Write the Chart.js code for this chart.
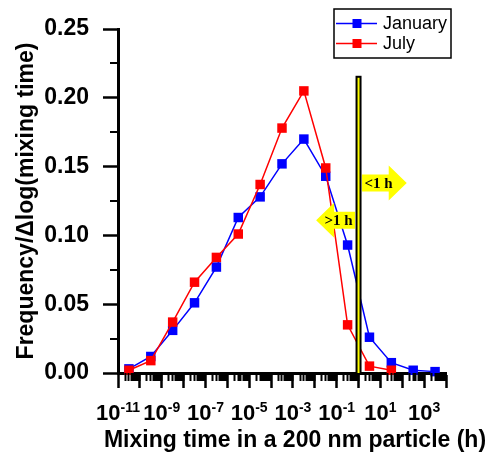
<!DOCTYPE html>
<html>
<head>
<meta charset="utf-8">
<script src="https://cdn.jsdelivr.net/npm/chart.js@4.4.1/dist/chart.umd.min.js"></script>
<style>
  html, body { margin: 0; padding: 0; background: #fff; }
</style>
</head>
<body>
<canvas id="mixChart" width="490" height="460"></canvas>
<script>
// bin centres as log10(mixing time / h)
const binExponents = [-10.5, -9.5, -8.5, -7.5, -6.5, -5.5, -4.5, -3.5, -2.5, -1.5, -0.5, 0.5, 1.5, 2.5, 3.5];
const january = [0.003, 0.012, 0.031, 0.051, 0.077, 0.113, 0.128, 0.152, 0.170, 0.143, 0.093, 0.026, 0.0075, 0.002, 0.001];
const july = [0.002, 0.009, 0.037, 0.066, 0.084, 0.101, 0.137, 0.178, 0.205, 0.149, 0.035, 0.005, 0.002];

const yTicks = [0, 0.05, 0.10, 0.15, 0.20, 0.25];
const yMinorTicks = [0.025, 0.075, 0.125, 0.175, 0.225];
const xDecades = [-11, -10, -9, -8, -7, -6, -5, -4, -3, -2, -1, 0, 1, 2, 3, 4];
const xLabelDecades = [-11, -9, -7, -5, -3, -1, 1, 3];
const xTitle = 'Mixing time in a 200 nm particle (h)';

// 1 h divider and the two direction arrows (x in hours, y in frequency units)
const dividerAt = 1;
const dividerTop = 0.216;
const arrows = [
  { text: '<1 h', tip: 160, y: 0.138 },
  { text: '>1 h', tip: 0.0115, y: 0.111 }
];

const SANS = "'Liberation Sans', Arial, sans-serif";
const SERIF = "'Liberation Serif', 'Times New Roman', serif";

const toPoints = vals => vals.map((v, i) => ({ x: Math.pow(10, binExponents[i]), y: v }));

const axisGrid = {
  display: true,
  drawOnChartArea: false,
  drawTicks: true,
  tickLength: 15,
  tickWidth: 2.5,
  tickColor: '#000'
};

const annotations = {
  id: 'annotations',
  afterDatasetsDraw(chart) {
    const { ctx, scales: { x, y } } = chart;
    const bx = x.getPixelForValue(dividerAt);
    const top = y.getPixelForValue(dividerTop);
    const bottom = y.getPixelForValue(0);
    ctx.save();
    // divider bar
    ctx.fillStyle = '#000';
    ctx.fillRect(bx - 3, top, 6, bottom - top);
    ctx.fillStyle = '#ffff00';
    ctx.fillRect(bx - 1, top + 2, 2, bottom - top - 2);

    arrows.forEach(a => {
      const tipX = x.getPixelForValue(a.tip);
      const cy = y.getPixelForValue(a.y);
      const dir = tipX > bx ? 1 : -1;
      const startX = bx + dir * 3.5;
      const headX = tipX - dir * 18;
      ctx.fillStyle = '#ffff00';
      ctx.beginPath();
      ctx.moveTo(startX, cy - 8.5);
      ctx.lineTo(headX, cy - 8.5);
      ctx.lineTo(headX, cy - 17.5);
      ctx.lineTo(tipX, cy);
      ctx.lineTo(headX, cy + 17.5);
      ctx.lineTo(headX, cy + 8.5);
      ctx.lineTo(startX, cy + 8.5);
      ctx.closePath();
      ctx.fill();

      ctx.fillStyle = '#000';
      ctx.font = 'bold 15px ' + SERIF;
      ctx.textBaseline = 'middle';
      ctx.textAlign = dir > 0 ? 'left' : 'right';
      ctx.fillText(a.text, bx + dir * 6, cy + 1);
    });
    ctx.restore();
  }
};

const axisExtras = {
  id: 'axisExtras',
  afterDraw(chart) {
    const { ctx, chartArea, scales: { x, y } } = chart;
    ctx.save();
    ctx.strokeStyle = '#000';
    ctx.lineWidth = 2;

    // minor ticks on the log axis
    ctx.beginPath();
    xDecades.slice(0, -1).forEach(e => {
      for (let m = 2; m <= 9; m++) {
        const px = Math.round(x.getPixelForValue(m * Math.pow(10, e))) + 0.5;
        ctx.moveTo(px, chartArea.bottom);
        ctx.lineTo(px, chartArea.bottom + 8);
      }
    });
    // minor ticks on the frequency axis
    yMinorTicks.forEach(v => {
      const py = Math.round(y.getPixelForValue(v));
      ctx.moveTo(chartArea.left - 8, py);
      ctx.lineTo(chartArea.left, py);
    });
    ctx.stroke();

    // decade labels with superscript exponents
    ctx.fillStyle = '#000';
    ctx.textBaseline = 'alphabetic';
    ctx.textAlign = 'left';
    const baseFont = 'bold 22px ' + SANS;
    const supFont = 'bold 14px ' + SANS;
    xLabelDecades.forEach(e => {
      const exp = String(e);
      ctx.font = baseFont;
      const wBase = ctx.measureText('10').width;
      ctx.font = supFont;
      const wSup = ctx.measureText(exp).width;
      const left = x.getPixelForValue(Math.pow(10, e)) - (wBase + wSup) / 2;
      ctx.font = baseFont;
      ctx.fillText('10', left, chartArea.bottom + 47);
      ctx.font = supFont;
      ctx.fillText(exp, left + wBase, chartArea.bottom + 39);
    });

    // axis title, centred a little right of the plot centre
    ctx.font = 'bold 23px ' + SANS;
    ctx.textAlign = 'center';
    ctx.textBaseline = 'middle';
    ctx.fillText(xTitle, (chartArea.left + chartArea.right) / 2 + 13, chartArea.bottom + 68);

    // legend box
    const lx = 334, ly = 9, lw = 117, lh = 49;
    ctx.textAlign = 'left';
    ctx.lineWidth = 1.5;
    ctx.strokeRect(lx, ly, lw, lh);
    chart.data.datasets.forEach((ds, i) => {
      const ry = ly + 14.5 + i * 20;
      ctx.strokeStyle = ds.borderColor;
      ctx.lineWidth = 1.5;
      ctx.beginPath();
      ctx.moveTo(lx + 2, ry);
      ctx.lineTo(lx + 43, ry);
      ctx.stroke();
      ctx.fillStyle = ds.backgroundColor;
      ctx.fillRect(lx + 18.5, ry - 4.5, 9, 9);
      ctx.fillStyle = '#000';
      ctx.font = '18px ' + SANS;
      ctx.textBaseline = 'middle';
      ctx.fillText(ds.label, lx + 49, ry + 1);
    });
    ctx.restore();
  }
};

new Chart(document.getElementById('mixChart'), {
  type: 'line',
  data: {
    datasets: [
      {
        label: 'January',
        data: toPoints(january),
        borderColor: '#0000ff',
        backgroundColor: '#0000ff',
        borderWidth: 1.5,
        pointStyle: 'rect',
        pointRadius: 6.7,
        pointHoverRadius: 6.7,
        pointBorderWidth: 0,
        tension: 0,
        clip: false,
        order: 1
      },
      {
        label: 'July',
        data: toPoints(july),
        borderColor: '#ff0000',
        backgroundColor: '#ff0000',
        borderWidth: 1.5,
        pointStyle: 'rect',
        pointRadius: 6.7,
        pointHoverRadius: 6.7,
        pointBorderWidth: 0,
        tension: 0,
        clip: false,
        order: 0
      }
    ]
  },
  options: {
    responsive: false,
    animation: false,
    layout: { padding: { top: 29, right: 44, left: 0, bottom: 0 } },
    plugins: {
      legend: { display: false },
      tooltip: { enabled: false }
    },
    scales: {
      x: {
        type: 'logarithmic',
        min: 1e-11,
        max: 1e4,
        afterBuildTicks: s => { s.ticks = xDecades.map(e => ({ value: Math.pow(10, e) })); },
        afterFit: s => { s.height = 87; },
        grid: axisGrid,
        border: { display: true, color: '#000', width: 3 },
        ticks: { display: false }
      },
      y: {
        min: 0,
        max: 0.25,
        afterBuildTicks: s => { s.ticks = yTicks.map(v => ({ value: v })); },
        afterFit: s => { s.width = 118; },
        grid: axisGrid,
        border: { display: true, color: '#000', width: 3 },
        ticks: {
          color: '#000',
          padding: 14,
          font: { family: SANS, size: 23, weight: 'bold' },
          callback: v => v.toFixed(2)
        },
        title: {
          display: true,
          text: 'Frequency/\u0394log(mixing time)',
          color: '#000',
          font: { family: SANS, size: 23, weight: 'bold' },
          padding: { top: 13, bottom: 0 }
        }
      }
    }
  },
  plugins: [annotations, axisExtras]
});
</script>
</body>
</html>
